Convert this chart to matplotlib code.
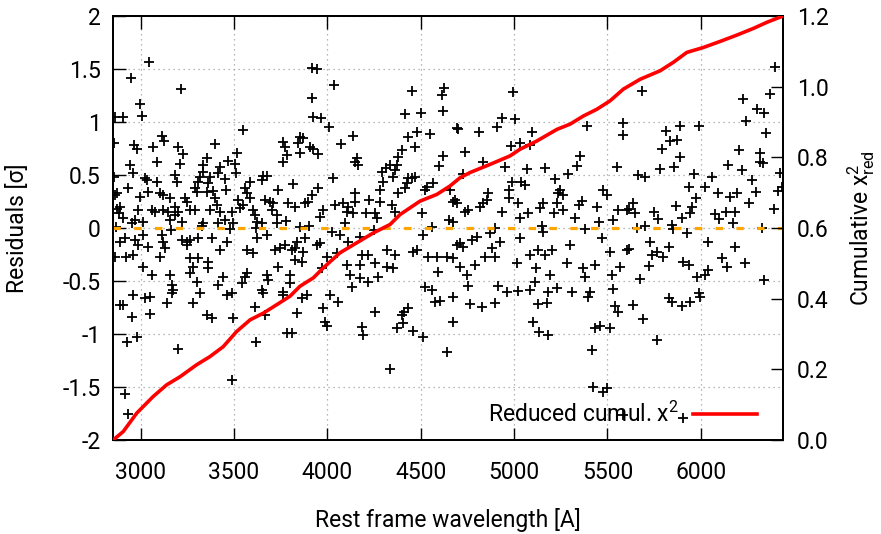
import matplotlib
matplotlib.use("Agg")
import matplotlib.pyplot as plt

plt.rcParams['font.family'] = ['Roboto', 'DejaVu Sans']
plt.rcParams['axes.unicode_minus'] = False
plt.rcParams['mathtext.fontset'] = 'custom'
plt.rcParams['mathtext.rm'] = 'Roboto'
plt.rcParams['mathtext.it'] = 'Roboto'
plt.rcParams['mathtext.default'] = 'regular'

# residuals (wavelength [A], residual [sigma])
resid_wl = [
    3046, 2948, 3214, 2996, 3009, 2862, 2907, 3550, 3112, 3125, 2859, 2964, 2978, 3064, 3202, 3225,
    3398, 3514, 3761, 3773, 3782, 3086, 3211, 2943, 2960, 2859, 3023, 3032, 3086, 3184, 3193, 3353,
    3332, 3336, 3318, 3309, 3371, 3425, 3416, 3452, 3470, 3505, 3511, 3657, 3675, 3648, 3586, 3559,
    3568, 3737, 2934, 2871, 2862, 2996, 3041, 3103, 3121, 3157, 3237, 3291, 3303, 3353, 3389, 3398,
    3457, 3362, 2871, 2889, 2886, 2987, 3059, 3077, 3121, 3148, 3184, 3184, 3202, 3246, 3264, 3291,
    3371, 3407, 3425, 3523, 3532, 3487, 3550, 3586, 3603, 3612, 3666, 3693, 3711, 3702, 3728, 2907,
    2970, 3014, 2952, 3157, 3219, 3336, 3416, 3452, 3497, 3621, 3648, 3728, 3764,
    3916, 3946, 4037, 3916, 3925, 3964, 4009, 4455, 4616, 4626, 4621, 4416, 4501, 4693, 4135, 4073,
    4478, 4430, 4550, 4469, 4398, 4380, 4371, 4618, 4600, 4157, 4148, 4166, 3853, 3871, 3844, 3853,
    3907, 3925, 3951, 4335, 4314, 4362, 4291, 4353, 4300, 4282, 4434, 4451, 4469, 4425, 4416, 4380,
    4532, 4523, 4568, 4657, 3817, 4028, 3951, 3916, 3898, 3880, 3791, 3826, 3978, 3960, 4041, 4085,
    4112, 4148, 4148, 4103, 4094, 4139, 4225, 4207, 4255, 4264, 4282, 4344, 4362, 4505, 4653, 4675,
    3778, 3853,
    4993, 4934, 5005, 4907, 4702, 4814, 5095, 5389, 5582, 5582, 4982, 5032, 5086, 4737, 4832, 4952,
    5068, 5166, 5354, 5336, 5291, 5550, 4725, 5220, 4987, 5036, 5059, 4970, 5246, 5237, 5264, 5478,
    5496, 4862, 4853, 4684, 4693, 4836, 4818, 4975, 5023, 4755, 4737, 4934, 5077, 5032, 5157, 5139,
    5211, 5228, 5264, 5362, 5345, 5443, 5327, 5452, 5532, 5559, 5604, 4671,
    6395, 5684, 6225, 6372, 6300, 6340, 6243, 6348, 5889, 5991, 5813, 5836, 5875, 5791, 5886, 6207,
    6318, 6315, 6332, 6148, 5782, 5857, 6220, 5666, 5702, 5964, 6059, 6273, 6425, 6434, 5934, 6023,
    6090, 6154, 6193, 6297, 6411, 5975, 6256, 5636, 5613, 5648, 5747, 5770, 5868, 5952, 5943, 5898,
    5845, 6077, 6095, 6136, 6184, 6172, 6390,
    2889, 2916, 2969, 2987, 3014, 3041, 3112, 3121, 3130, 3219, 3246, 3264, 3309, 3246, 2862, 2921,
    2961, 3014, 3103, 3059, 3157, 3166, 3175, 3166, 3264, 3309, 3362, 3282, 3264, 3303, 3362, 3318,
    3380, 3461, 3425, 3416, 3443, 3461, 3487, 3541, 3559, 3571, 3568, 3603, 3621, 3675, 3719, 3737,
    3746, 3675, 3684, 3648, 3657, 3612, 3666, 3764, 3050, 3023, 2961, 2889, 2907, 2952, 3050, 3139,
    3282, 3353, 3380, 3496, 2925, 2978, 3202, 3618, 3487, 2916, 2934, 3786,
    3773, 3809, 3826, 3835, 3880, 3942, 3960, 3871, 3826, 3862, 3996, 4023, 4067, 4112, 4050, 4103,
    4121, 4130, 4175, 4184, 4219, 4175, 4255, 4219, 4175, 4273, 4317, 4362, 4317, 4353, 3969, 3800,
    3800, 3764, 3862, 3889, 4014, 4059, 3978, 3835, 3987, 3996, 3809, 4184, 4193, 4255, 4371, 4398,
    4410, 4434, 4407, 4460, 4514, 4335, 4639, 4460, 4478, 4541, 4585, 4639, 4675, 4594, 4523, 4559,
    4576, 4603, 4675, 4675, 4514, 4693,
    4711, 4728, 4773, 4800, 4871, 4925, 4880, 4898, 4845, 4711, 4746, 4791, 4755, 4764, 4827, 4898,
    4916, 4961, 5023, 5086, 5014, 5032, 5086, 5130, 5166, 5202, 5157, 5118, 5112, 5193, 5184, 5228,
    5175, 5130, 5103, 5136, 5184, 5300, 5282, 5309, 5371, 5380, 5434, 5407, 5398, 5470, 5514, 5523,
    5568, 5532, 5541, 5559, 5604, 5434, 5461, 5514, 5416, 5421, 5478, 5500, 5582,
    5657, 5925, 6041, 6184, 5613, 5729, 5738, 5764, 5800, 5827, 5720, 5675, 5907, 5934, 5979, 6023,
    6041, 6113, 6140, 6238, 6336, 5639, 5689, 5827, 5845, 5898, 5943, 5988, 5997, 5764, 5907,
    2870, 3160, 3330, 3480, 3620, 3900, 4250, 4560, 4900, 5150, 5380, 5700, 5850, 6330,
]
resid_val = [
    1.563, 1.412, 1.315, 1.170, 1.057, 1.051, 1.044, 0.925, 0.868, 0.821, 0.799, 0.783, 0.743, 0.768, 0.768, 0.695,
    0.790, 0.711, 0.815, 0.768, 0.689, 0.626, 0.604, 0.595, 0.516, 0.485, 0.475, 0.453, 0.431, 0.500, 0.437, 0.658,
    0.595, 0.532, 0.485, 0.437, 0.485, 0.579, 0.516, 0.463, 0.632, 0.604, 0.516, 0.494, 0.494, 0.453, 0.437, 0.375,
    0.327, 0.359, 0.375, 0.334, 0.312, 0.296, 0.343, 0.334, 0.312, 0.280, 0.280, 0.375, 0.343, 0.343, 0.353, 0.280,
    0.359, 0.422, 0.176, 0.202, 0.139, 0.170, 0.170, 0.154, 0.170, 0.154, 0.202, 0.123, 0.154, 0.249, 0.170, 0.170,
    0.170, 0.217, 0.154, 0.265, 0.186, 0.154, 0.217, 0.280, 0.170, 0.123, 0.265, 0.249, 0.233, 0.170, 0.123, 0.092,
    0.076, 0.060, 0.044, 0.076, 0.060, 0.044, 0.044, 0.076, 0.044, 0.060, 0.044, 0.044, 0.626,
    1.507, 1.497, 1.346, 1.224, 1.051, 1.041, 0.956, 1.293, 1.255, 1.324, 1.107, 1.073, 1.088, 0.941, 0.868, 0.790,
    0.903, 0.856, 0.884, 0.768, 0.736, 0.673, 0.595, 0.683, 0.588, 0.658, 0.626, 0.595, 0.862, 0.846, 0.799, 0.705,
    0.768, 0.743, 0.698, 0.595, 0.563, 0.547, 0.532, 0.485, 0.437, 0.359, 0.469, 0.469, 0.485, 0.422, 0.375, 0.327,
    0.390, 0.359, 0.422, 0.359, 0.415, 0.469, 0.375, 0.312, 0.249, 0.239, 0.233, 0.202, 0.170, 0.107, 0.217, 0.233,
    0.202, 0.249, 0.327, 0.154, 0.044, 0.139, 0.265, 0.139, 0.139, 0.092, 0.249, 0.217, 0.154, 0.139, 0.076, 0.249,
    0.070, 0.013,
    1.287, 1.041, 1.026, 0.950, 0.934, 0.909, 0.909, 0.966, 0.988, 0.878, 0.777, 0.799, 0.783, 0.721, 0.626, 0.579,
    0.554, 0.563, 0.683, 0.588, 0.510, 0.579, 0.507, 0.460, 0.437, 0.437, 0.406, 0.359, 0.359, 0.327, 0.312, 0.359,
    0.312, 0.327, 0.265, 0.265, 0.233, 0.233, 0.202, 0.280, 0.239, 0.170, 0.154, 0.154, 0.139, 0.092, 0.233, 0.186,
    0.139, 0.233, 0.170, 0.258, 0.217, 0.202, 0.092, 0.060, 0.076, 0.170, 0.170, 0.060,
    1.516, 1.296, 1.214, 1.264, 1.120, 1.082, 1.013, 0.900, 0.963, 0.966, 0.919, 0.824, 0.831, 0.743, 0.673, 0.736,
    0.711, 0.626, 0.610, 0.595, 0.557, 0.579, 0.547, 0.500, 0.478, 0.510, 0.485, 0.453, 0.516, 0.390, 0.390, 0.384,
    0.334, 0.290, 0.334, 0.343, 0.353, 0.280, 0.233, 0.239, 0.176, 0.139, 0.154, 0.085, 0.208, 0.202, 0.139, 0.092,
    0.029, 0.133, 0.082, 0.154, 0.154, 0.051, 0.176,
    -0.129, -0.097, -0.113, -0.160, -0.066, -0.176, -0.066, -0.129, -0.192, -0.113, -0.129, -0.113, -0.091, -0.160, -0.270, -0.270,
    -0.255, -0.365, -0.270, -0.443, -0.443, -0.538, -0.585, -0.616, -0.286, -0.286, -0.317, -0.365, -0.428, -0.506, -0.380, -0.616,
    -0.097, -0.129, -0.207, -0.538, -0.459, -0.632, -0.616, -0.522, -0.459, -0.428, -0.207, -0.239, -0.097, -0.066, -0.207, -0.365,
    -0.192, -0.443, -0.490, -0.585, -0.616, -0.742, -0.821, -0.632, -0.648, -0.664, -0.632, -0.727, -0.727, -0.837, -0.814, -0.711,
    -0.711, -0.821, -0.852, -0.852, -1.072, -1.025, -1.141, -1.079, -1.434, -1.569, -1.755, -0.994,
    -0.160, -0.207, -0.192, -0.129, -0.097, -0.160, -0.145, -0.223, -0.302, -0.317, -0.270, -0.034, -0.066, -0.129, -0.239, -0.349,
    -0.443, -0.553, -0.082, -0.255, -0.255, -0.349, -0.333, -0.506, -0.475, -0.459, -0.207, -0.255, -0.365, -0.380, -0.380, -0.443,
    -0.522, -0.600, -0.664, -0.632, -0.632, -0.701, -0.752, -0.805, -0.884, -0.925, -0.994, -0.931, -1.009, -0.795, -0.947, -0.821,
    -0.795, -0.758, -0.899, -0.972, -1.025, -1.330, -1.173, -0.223, -0.207, -0.270, -0.270, -0.270, -0.286, -0.412, -0.553, -0.585,
    -0.695, -0.689, -0.648, -0.884, -0.066, -0.160,
    -0.145, -0.176, -0.113, -0.082, -0.050, -0.129, -0.192, -0.270, -0.270, -0.365, -0.443, -0.349, -0.544, -0.720, -0.742, -0.705,
    -0.544, -0.607, -0.591, -0.585, -0.327, -0.097, -0.255, -0.207, -0.255, -0.207, -0.034, -0.380, -0.506, -0.443, -0.600, -0.569,
    -0.705, -0.717, -0.890, -0.984, -1.009, -0.160, -0.333, -0.600, -0.380, -0.459, -0.349, -0.600, -0.648, -0.097, -0.223, -0.443,
    -0.365, -0.578, -0.733, -0.789, -0.207, -0.947, -0.921, -0.947, -1.151, -1.503, -1.544, -1.513, -1.764,
    -0.003, -0.050, -0.129, -0.176, -0.198, -0.129, -0.255, -0.223, -0.270, -0.176, -0.355, -0.481, -0.324, -0.349, -0.459, -0.443,
    -0.396, -0.286, -0.365, -0.333, -0.490, -0.727, -0.862, -0.664, -0.695, -0.736, -0.695, -0.616, -0.648, -1.057, -1.795,
    0.010, -0.020, 0.020, -0.010, 0.000, 0.020, -0.020, 0.010, 0.000, 0.020, -0.010, 0.020, -0.010, 0.000,
]

# cumulative reduced chi2 curve (right axis)
cum_wl = [2853, 2907, 2979, 3067, 3139, 3211, 3300, 3371, 3442, 3514, 3586, 3657, 3729, 3800, 3853,
          3925, 3978, 4068, 4157, 4246, 4336, 4389, 4496, 4586, 4657, 4710, 4764, 4871, 4978, 5032,
          5121, 5229, 5300, 5371, 5443, 5514, 5585, 5675, 5782, 5853, 5925, 6014, 6103, 6193, 6282,
          6353, 6440]
cum_chi2 = [0.000, 0.024, 0.076, 0.123, 0.156, 0.179, 0.213, 0.236, 0.264, 0.307, 0.340, 0.359, 0.383,
            0.407, 0.435, 0.459, 0.487, 0.530, 0.558, 0.586, 0.610, 0.638, 0.676, 0.695, 0.719, 0.742,
            0.757, 0.780, 0.804, 0.823, 0.846, 0.879, 0.894, 0.917, 0.936, 0.960, 0.993, 1.021, 1.045,
            1.069, 1.097, 1.111, 1.128, 1.146, 1.165, 1.182, 1.200]

xticks = [3000, 3500, 4000, 4500, 5000, 5500, 6000]
yticks = [-2, -1.5, -1, -0.5, 0, 0.5, 1, 1.5, 2]
ytick_labels = ['-2', '-1.5', '-1', '-0.5', '0', '0.5', '1', '1.5', '2']
y2ticks = [0.0, 0.2, 0.4, 0.6, 0.8, 1.0, 1.2]
y2tick_labels = ['0.0', '0.2', '0.4', '0.6', '0.8', '1.0', '1.2']

fs = 16.5
fig = plt.figure(figsize=(8.81, 5.34), dpi=100)
ax = fig.add_axes([113 / 881, 1 - 440 / 534, 670 / 881, 424 / 534])
ax2 = ax.twinx()

ax.plot(resid_wl, resid_val, linestyle='none', marker='+', markersize=7.5, markeredgewidth=1.3,
        color='black', zorder=3)
ax.axhline(0, color='#FFA500', lw=2.3, dashes=(2.3, 4.2), dash_capstyle='butt', zorder=4)
ax2.plot(cum_wl, cum_chi2, color='red', lw=2.6, zorder=5, label='Reduced cumul. x$^2$')

ax.set_xlim(2852, 6440)
ax.set_ylim(-2, 2)
ax2.set_ylim(0, 1.2)
ax.set_xticks(xticks)
ax.set_yticks(yticks)
ax.set_yticklabels(ytick_labels)
ax2.set_yticks(y2ticks)
ax2.set_yticklabels(y2tick_labels)

ax.grid(True, linestyle=(0, (1, 3)), color='#a0a0a0', linewidth=0.9)
ax.tick_params(axis='x', direction='in', length=9, width=1, top=True, labelsize=fs, pad=15)
ax.tick_params(axis='y', direction='in', length=9, width=1, right=False, labelsize=fs, pad=9)
ax2.tick_params(axis='y', direction='in', length=9, width=1, labelsize=fs, pad=10)
for a in (ax, ax2):
    for s in a.spines.values():
        s.set_linewidth(1.4)

ax.set_xlabel('Rest frame wavelength [A]', fontsize=fs)
ax.set_ylabel('Residuals [σ]', fontsize=fs)
ax2.set_ylabel('Cumulative x$^2_{red}$', fontsize=fs)
ax.xaxis.set_label_coords(0.5, -0.16)
ax.yaxis.set_label_coords(-0.125, 0.5)
ax2.yaxis.set_label_coords(1.093, 0.5)

ax2.legend(loc='center right', bbox_to_anchor=((757 - 113) / 670, 26 / 424), frameon=False,
           markerfirst=False, handlelength=2.8, handletextpad=0.6, borderpad=0, borderaxespad=0,
           fontsize=fs)

fig.savefig('out.png', dpi=100)
